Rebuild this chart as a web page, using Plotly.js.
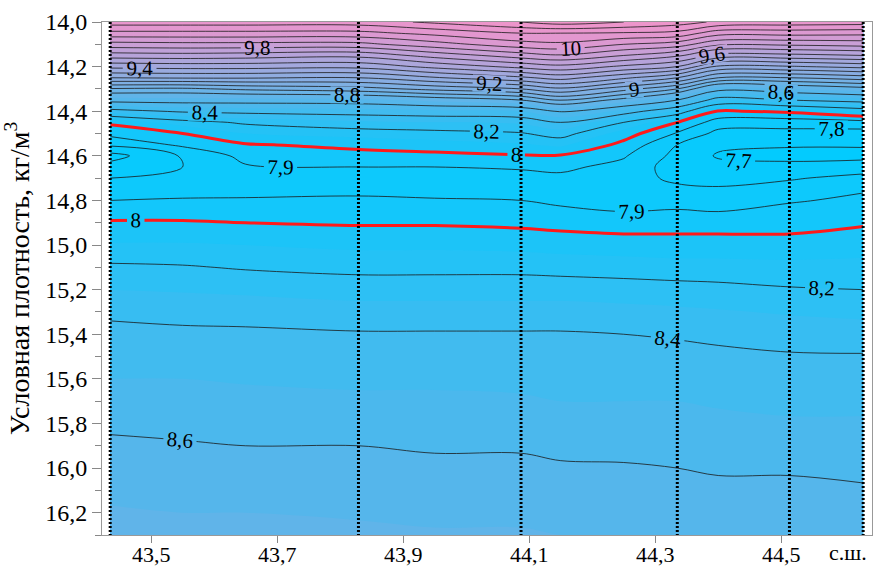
<!DOCTYPE html>
<html>
<head>
<meta charset="utf-8">
<script src="https://cdn.plot.ly/plotly-3.0.1.min.js"></script>
<style>html,body{margin:0;padding:0;background:#fff;}#chart{width:873px;height:570px;}</style>
</head>
<body>
<div id="chart"></div>
<script>
// Latitudes (°N) of the grid columns
const lat = [43.435, 43.55, 43.65, 43.829, 43.95, 44.087, 44.15, 44.25, 44.335, 44.40, 44.513, 44.63];
// Conditional density rows (kg/m3)
const dens = [14.00,14.05,14.10,14.15,14.20,14.25,14.30,14.35,14.40,14.45,14.50,14.55,14.60,14.65,14.70,14.75,14.80,14.85,14.90,14.95,15.00,15.10,15.20,15.30,15.40,15.50,15.60,15.70,15.80,15.90,16.00,16.10,16.20,16.30];
// Temperature profiles (°C) at each latitude column, top to bottom
const p43_435 = [10.25,10.07,9.86,9.65,9.43,9.2,8.89,8.65,8.35,8.02,7.93,7.82,7.66,7.74,7.8,7.85,7.9,7.96,8.01,8.06,8.11,8.22,8.3,8.38,8.43,8.47,8.5,8.54,8.58,8.62,8.65,8.68,8.71,8.74];
const p43_55  = [10.25,10.07,9.87,9.66,9.44,9.21,8.88,8.66,8.42,8.15,8.0,7.92,7.81,7.8,7.84,7.86,7.91,7.96,8.01,8.06,8.11,8.21,8.29,8.37,8.42,8.46,8.5,8.53,8.57,8.61,8.64,8.67,8.7,8.73];
const p43_65  = [10.25,10.07,9.87,9.65,9.44,9.21,8.92,8.66,8.44,8.22,8.1,7.99,7.93,7.89,7.87,7.87,7.91,7.96,8.0,8.05,8.1,8.19,8.28,8.36,8.42,8.46,8.49,8.53,8.57,8.6,8.64,8.67,8.7,8.73];
const p43_829 = [10.25,10.07,9.87,9.63,9.43,9.2,8.96,8.67,8.46,8.28,8.14,8.03,7.96,7.9,7.86,7.87,7.92,7.95,7.99,8.03,8.08,8.17,8.26,8.34,8.41,8.45,8.48,8.52,8.56,8.6,8.63,8.66,8.69,8.72];
const p43_95  = [10.32,10.13,9.96,9.74,9.53,9.29,9.03,8.73,8.48,8.3,8.16,8.06,7.97,7.9,7.86,7.86,7.91,7.95,7.99,8.03,8.08,8.17,8.26,8.34,8.41,8.45,8.48,8.52,8.56,8.59,8.62,8.65,8.68,8.71];
const p44_087 = [10.4,10.2,10.06,9.85,9.63,9.38,9.1,8.8,8.5,8.32,8.19,8.09,7.99,7.91,7.87,7.86,7.9,7.94,7.98,8.02,8.07,8.17,8.26,8.34,8.41,8.45,8.48,8.51,8.55,8.59,8.62,8.65,8.68,8.71];
const p44_15  = [10.45,10.2,10.08,9.89,9.67,9.44,9.18,8.91,8.62,8.4,8.25,8.12,7.99,7.92,7.88,7.87,7.88,7.92,7.97,8.01,8.06,8.16,8.26,8.34,8.41,8.44,8.47,8.5,8.54,8.58,8.61,8.64,8.67,8.7];
const p44_25  = [10.4,10.19,10.0,9.8,9.58,9.32,9.04,8.76,8.47,8.2,8.05,7.97,7.91,7.87,7.84,7.83,7.85,7.9,7.96,8.0,8.05,8.15,8.25,8.33,8.4,8.44,8.47,8.5,8.54,8.57,8.61,8.64,8.67,8.7];
const p44_335 = [10.35,10.17,9.95,9.72,9.5,9.2,8.9,8.6,8.28,8.0,7.89,7.8,7.77,7.75,7.78,7.82,7.86,7.91,7.95,8.0,8.04,8.14,8.24,8.32,8.39,8.43,8.46,8.5,8.53,8.56,8.6,8.63,8.66,8.69];
const p44_40  = [10.28,10.04,9.82,9.56,9.28,9.0,8.65,8.33,7.99,7.85,7.77,7.72,7.69,7.73,7.77,7.81,7.85,7.9,7.95,8.0,8.04,8.14,8.23,8.31,8.38,8.42,8.45,8.49,8.52,8.56,8.59,8.62,8.65,8.68];
const p44_513 = [10.26,10.04,9.82,9.57,9.29,9.0,8.7,8.4,8.02,7.84,7.77,7.71,7.67,7.73,7.79,7.84,7.89,7.93,7.97,8.0,8.04,8.13,8.21,8.29,8.36,8.41,8.44,8.48,8.51,8.55,8.59,8.62,8.65,8.68];
const p44_63  = [10.25,10.03,9.84,9.6,9.33,9.05,8.76,8.46,8.12,7.86,7.76,7.71,7.67,7.75,7.83,7.89,7.92,7.95,7.99,8.02,8.06,8.13,8.2,8.28,8.34,8.41,8.44,8.48,8.51,8.55,8.58,8.61,8.64,8.67];
// Station (profile) latitudes
const stations = [43.435, 43.829, 44.087, 44.335, 44.513, 44.63];
// Axis ticks
const xTicks = [43.5, 43.7, 43.9, 44.1, 44.3, 44.5];
const yTicks = [14.0,14.2,14.4,14.6,14.8,15.0,15.2,15.4,15.6,15.8,16.0,16.2];

const profiles = [p43_435,p43_55,p43_65,p43_829,p43_95,p44_087,p44_15,p44_25,p44_335,p44_40,p44_513,p44_63];
const z = dens.map((d, i) => profiles.map(p => p[i]));
const upperRows = 12;

const serif = "Times New Roman, Liberation Serif, DejaVu Serif, serif";
const labFont = {family:serif, size:21, color:'#000'};
const cscale = [
  [0.0, 'rgb(0,204,255)'],
  [0.107, 'rgb(15,200,252)'],
  [0.214, 'rgb(40,193,245)'],
  [0.357, 'rgb(80,183,236)'],
  [0.5, 'rgb(122,176,228)'],
  [0.643, 'rgb(158,169,222)'],
  [0.786, 'rgb(196,160,215)'],
  [0.893, 'rgb(225,152,208)'],
  [1.0, 'rgb(240,148,202)']
];

const traces = [];
traces.push({type:'contour', x: lat, y: dens, z: z, colorscale: cscale, zmin: 7.6, zmax: 10.4,
  autocontour:false, contours:{start:7.6, end:10.4, size:0.1, coloring:'fill', showlines:false},
  line:{width:0}, showscale:false, hoverinfo:'skip'});
// unlabeled odd-tenth lines of the upper layer
traces.push({type:'contour', x: lat, y: dens.slice(0, upperRows), z: z.slice(0, upperRows),
  autocontour:false, contours:{start:8.9, end:9.9, size:0.2, coloring:'none'},
  line:{color:'#1a1a1a', width:0.8}, showscale:false, hoverinfo:'skip'});
// unlabeled lines above 10
traces.push({type:'contour', x: lat, y: dens, z: z,
  autocontour:false, contours:{start:10.1, end:10.4, size:0.1, coloring:'none'},
  line:{color:'#1a1a1a', width:0.8}, showscale:false, hoverinfo:'skip'});
// labeled even-tenth lines
traces.push({type:'contour', x: lat, y: dens, z: z,
  autocontour:false, contours:{start:8.2, end:10.0, size:0.2, coloring:'none', showlabels:true,
    labelfont:labFont, labelformat:'.1~f'},
  line:{color:'#1a1a1a', width:0.8}, showscale:false, hoverinfo:'skip'});
traces.push({type:'contour', x: lat, y: dens, z: z,
  autocontour:false, contours:{start:7.7, end:7.9, size:0.1, coloring:'none', showlabels:true,
    labelfont:labFont, labelformat:'.1~f'},
  line:{color:'#1a1a1a', width:0.8}, showscale:false, hoverinfo:'skip'});
// red 8 °C isotherm
traces.push({type:'contour', x: lat, y: dens, z: z,
  autocontour:false, contours:{start:8, end:8, size:1, coloring:'none', showlabels:true,
    labelfont:labFont, labelformat:'.1~f'},
  line:{color:'#ff1a1a', width:3}, showscale:false, hoverinfo:'skip'});

const sx = [], sy = [];
stations.forEach(s => { sx.push(s, s, null); sy.push(14.0, 16.3, null); });
traces.push({type:'scatter', mode:'lines', x: sx, y: sy,
  line:{color:'#000', width:3, dash:'2px,2px'}, hoverinfo:'skip', showlegend:false});

const layout = {
  width: 873, height: 570,
  margin: {l:102, r:1, t:22, b:35},
  paper_bgcolor:'#fff', plot_bgcolor:'#fff',
  separators: ', ',
  showlegend:false,
  font:{family: serif, color:'#000'},
  xaxis: {range:[43.422, 44.644], tickvals: xTicks, tickformat:'.1f', ticksuffix:'°',
    ticks:'outside', ticklen:7, tickcolor:'#888', showline:true, linecolor:'#999', linewidth:1,
    mirror:true, showgrid:false, zeroline:false, ticklabelstandoff:-7,
    tickfont:{family:serif, size:22, color:'#000'}},
  yaxis: {range:[16.3, 14.0], tickvals: yTicks, tickformat:'.1f',
    ticks:'outside', ticklen:9, tickcolor:'#888', showline:true, linecolor:'#999', linewidth:1,
    mirror:true, showgrid:false, zeroline:false, tickfont:{family:serif, size:24, color:'#000'},
    minor:{dtick:0.1, tick0:14.0, ticks:'outside', ticklen:6, tickcolor:'#888', showgrid:false},
    title:{text:'Условная плотность, кг/м<sup>3</sup>', font:{family:serif, size:28, color:'#000'}, standoff:8}},
  annotations: [{text:'с.ш.', xref:'x', yref:'paper', x:44.606, y:-0.034, xanchor:'center', yanchor:'middle',
    showarrow:false, font:{family:serif, size:22, color:'#000'}}]
};

Plotly.newPlot('chart', traces, layout, {staticPlot:true, displayModeBar:false});
</script>
</body>
</html>
